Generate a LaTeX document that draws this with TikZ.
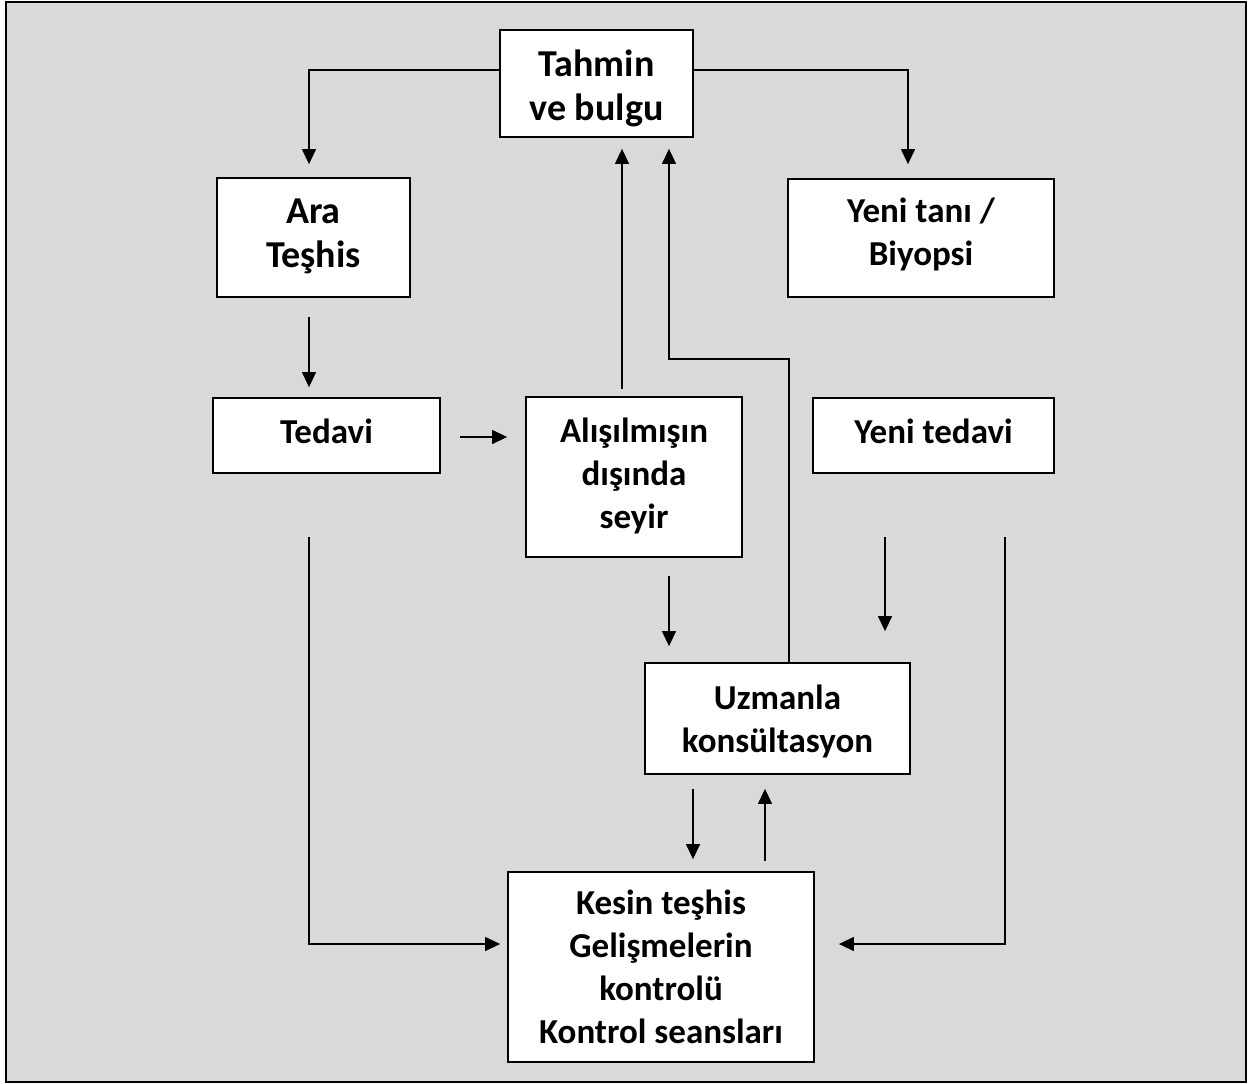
\documentclass[tikz,border=0pt]{standalone}
\usepackage{fontspec}
\setmainfont{Carlito}
\usetikzlibrary{arrows.meta}
\definecolor{panel}{HTML}{D9D9D9}
\begin{document}
\begin{tikzpicture}[x=1pt,y=-1pt,
  box/.style={draw=black,line width=1.8pt,fill=white,inner sep=0pt},
  txt/.style={inner sep=0pt,align=center,font=\bfseries\fontsize{35}{43}\selectfont},
  big/.style={font=\bfseries\fontsize{38}{44}\selectfont},
  arr/.style={line width=1.3pt,-{Triangle[length=15pt,width=14pt]}}]
\useasboundingbox (0,0) rectangle (1248,1084);
\draw[line width=2.6pt,fill=panel] (6,2) rectangle (1246,1082);

% boxes
\node[box,minimum width=193pt,minimum height=107pt] (tahmin) at (596.5,83.5) {};
\node[box,minimum width=193pt,minimum height=119pt] (ara) at (313.5,237.5) {};
\node[box,minimum width=266pt,minimum height=118pt] (yenitani) at (921,238) {};
\node[box,minimum width=227pt,minimum height=75pt] (tedavi) at (326.5,435.5) {};
\node[box,minimum width=216pt,minimum height=160pt] (alis) at (634,477) {};
\node[box,minimum width=241pt,minimum height=75pt] (yeniteda) at (933.5,435.5) {};
\node[box,minimum width=265pt,minimum height=111pt] (uzman) at (777.5,718.5) {};
\node[box,minimum width=306pt,minimum height=190pt] (kesin) at (661,967) {};

% box texts
\node[txt,big] (tahmin-t) at ([yshift=-5pt]tahmin.center) {Tahmin\\ve bulgu};
\node[txt,big] (ara-t) at ([yshift=1pt]ara.center) {Ara\\Teşhis};
\node[txt] (yenitani-t) at ([yshift=3.5pt]yenitani.center) {Yeni tanı /\\Biyopsi};
\node[txt] (tedavi-t) at ([yshift=4.5pt]tedavi.center) {Tedavi};
\node[txt] (alis-t) at ([yshift=1.5pt]alis.center) {Alışılmışın\\dışında\\seyir};
\node[txt] (yeniteda-t) at ([yshift=4.5pt]yeniteda.center) {Yeni tedavi};
\node[txt] (uzman-t) at ([yshift=-2.5pt]uzman.center) {Uzmanla\\konsültasyon};
\node[txt] (kesin-t) at (kesin.center) {Kesin teşhis\\Gelişmelerin\\kontrolü\\Kontrol seansları};

% connectors
\draw[arr] ([yshift=13.5pt]tahmin.west) -| ([xshift=-4.5pt,yshift=13pt]ara.north);
\draw[arr] ([yshift=13.5pt]tahmin.east) -| ([xshift=-13pt,yshift=14pt]yenitani.north);
\draw[arr] ([xshift=-4.5pt,yshift=-19pt]ara.south) -- ([xshift=-17.5pt,yshift=10pt]tedavi.north);
\draw[arr] ([xshift=19pt,yshift=-1.5pt]tedavi.east) -- ([xshift=-18pt,yshift=40pt]alis.west);
\draw[arr] ([xshift=-12pt,yshift=7pt]alis.north) -- ([xshift=25.5pt,yshift=-11pt]tahmin.south);
\draw[arr] ([xshift=11.5pt]uzman.north) -- ++(0pt,303pt) -| ([xshift=72.5pt,yshift=-11pt]tahmin.south);
\draw[arr] ([xshift=35pt,yshift=-18pt]alis.south) -- ([xshift=-108.5pt,yshift=16pt]uzman.north);
\draw[arr] ([xshift=-48.5pt,yshift=-63pt]yeniteda.south) -- ([xshift=107.5pt,yshift=31pt]uzman.north);
\draw[arr] ([xshift=-84.5pt,yshift=-14pt]uzman.south) -- ([xshift=32pt,yshift=12pt]kesin.north);
\draw[arr] ([xshift=104pt,yshift=10pt]kesin.north) -- ([xshift=-12.5pt,yshift=-14pt]uzman.south);
\draw[arr] ([xshift=-17.5pt,yshift=-63pt]tedavi.south) |- ([xshift=-7pt,yshift=23pt]kesin.west);
\draw[arr] ([xshift=71.5pt,yshift=-63pt]yeniteda.south) |- ([xshift=24pt,yshift=23pt]kesin.east);
\end{tikzpicture}
\end{document}
